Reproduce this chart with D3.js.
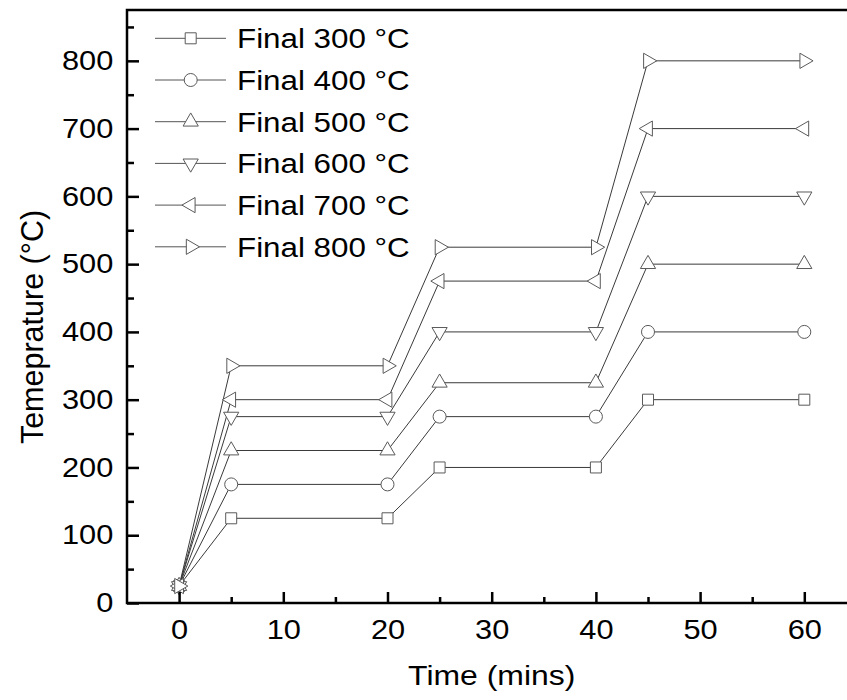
<!DOCTYPE html>
<html>
<head>
<meta charset="utf-8">
<script src="https://cdn.jsdelivr.net/npm/d3@7"></script>
<style>
  html, body { margin: 0; padding: 0; background: #fff; }
  svg { display: block; font-family: Arial, "Liberation Sans", sans-serif; }
</style>
</head>
<body>
<svg id="chart" width="847" height="700"></svg>
<script>
// ── Data ──────────────────────────────────────────────────────────────────
const times = [0, 5, 20, 25, 40, 45, 60];

const final300 = [25, 125, 125, 200, 200, 300, 300];
const final400 = [25, 175, 175, 275, 275, 400, 400];
const final500 = [25, 225, 225, 325, 325, 500, 500];
const final600 = [25, 275, 275, 400, 400, 600, 600];
const final700 = [25, 300, 300, 475, 475, 700, 700];
const final800 = [25, 350, 350, 525, 525, 800, 800];

const seriesLabels = ['Final 300 °C', 'Final 400 °C', 'Final 500 °C',
                      'Final 600 °C', 'Final 700 °C', 'Final 800 °C'];
const seriesValues = [final300, final400, final500, final600, final700, final800];

const xTicks = [0, 10, 20, 30, 40, 50, 60];
const xMinorTicks = [5, 15, 25, 35, 45, 55];
const yTicks = [0, 100, 200, 300, 400, 500, 600, 700, 800];
const yMinorTicks = [50, 150, 250, 350, 450, 550, 650, 750, 850];

// ── Layout ────────────────────────────────────────────────────────────────
const svg = d3.select('#chart');
const plotLeft = 127, plotTop = 10, plotBottom = 603;
const stretch = 'scale(1.14,1)';   // glyphs in the reference are wide

const x = d3.scaleLinear().domain([-5, 65]).range([plotLeft, plotLeft + 70 * 10.42]);
const y = d3.scaleLinear().domain([0, 875]).range([plotBottom, plotTop]);

// marker shapes: [symbol type, size, rotation]
const markers = [
  [d3.symbolSquare, 121, 0],
  [d3.symbolCircle, 133, 0],
  [d3.symbolTriangle, 100, 0],
  [d3.symbolTriangle, 100, 180],
  [d3.symbolTriangle, 100, -90],
  [d3.symbolTriangle, 100, 90]
];

const lineColor = '#3a3a3a';
const markerStroke = '#5a5a5a';

// ── Series ────────────────────────────────────────────────────────────────
const line = d3.line()
  .x((d, i) => x(times[i]))
  .y(d => y(d));

const plot = svg.append('g');

seriesValues.forEach(vals => {
  plot.append('path')
    .attr('d', line(vals))
    .attr('fill', 'none')
    .attr('stroke', lineColor)
    .attr('stroke-width', 1);
});

seriesValues.forEach((vals, s) => {
  const [type, size, rot] = markers[s];
  const sym = d3.symbol().type(type).size(size);
  plot.selectAll(null)
    .data(vals)
    .enter()
    .append('path')
    .attr('d', sym)
    .attr('transform', (d, i) => `translate(${x(times[i])},${y(d)}) rotate(${rot})`)
    .attr('fill', '#fff')
    .attr('stroke', markerStroke)
    .attr('stroke-width', 1);
});

// ── Axes ──────────────────────────────────────────────────────────────────
const xAxis = svg.append('g')
  .attr('transform', `translate(0,${plotBottom})`)
  .call(d3.axisBottom(x).tickValues(xTicks).tickSizeInner(-11).tickSizeOuter(0).tickPadding(17));
svg.append('g')
  .attr('transform', `translate(0,${plotBottom})`)
  .call(d3.axisBottom(x).tickValues(xMinorTicks).tickSizeInner(-6).tickSizeOuter(0).tickFormat(''));

const yAxis = svg.append('g')
  .attr('transform', `translate(${plotLeft},0)`)
  .call(d3.axisLeft(y).tickValues(yTicks).tickSizeInner(-12).tickSizeOuter(0).tickPadding(12));
svg.append('g')
  .attr('transform', `translate(${plotLeft},0)`)
  .call(d3.axisLeft(y).tickValues(yMinorTicks).tickSizeInner(-7).tickSizeOuter(0).tickFormat(''));

svg.selectAll('.domain').remove();
svg.selectAll('.tick line').attr('stroke', '#000').attr('stroke-width', 2.5);

[xAxis, yAxis].forEach(ax => {
  ax.selectAll('text')
    .attr('font-size', 27)
    .attr('fill', '#000')
    .attr('font-family', 'Arial, "Liberation Sans", sans-serif')
    .attr('transform', stretch);
});

// frame (right edge falls outside the picture)
svg.append('rect')
  .attr('x', x(-5))
  .attr('y', y(875))
  .attr('width', x(65) - x(-5))
  .attr('height', y(0) - y(875))
  .attr('fill', 'none')
  .attr('stroke', '#000')
  .attr('stroke-width', 2.5);

// ── Titles ────────────────────────────────────────────────────────────────
svg.append('text')
  .attr('transform', `translate(${x(30)},685) ${stretch}`)
  .attr('text-anchor', 'middle')
  .attr('font-size', 28)
  .text('Time (mins)');

svg.append('text')
  .attr('transform', 'translate(43,327) rotate(-90)')
  .attr('text-anchor', 'middle')
  .attr('font-size', 30.5)
  .text('Temeprature (°C)');

// ── Legend ────────────────────────────────────────────────────────────────
const legend = svg.append('g');
seriesLabels.forEach((label, s) => {
  const cy = 38.3 + s * 41.7;
  const [type, size, rot] = markers[s];
  legend.append('line')
    .attr('x1', 155).attr('x2', 226)
    .attr('y1', cy).attr('y2', cy)
    .attr('stroke', '#555')
    .attr('stroke-width', 1);
  legend.append('path')
    .attr('d', d3.symbol().type(type).size(size))
    .attr('transform', `translate(190.7,${cy}) rotate(${rot})`)
    .attr('fill', '#fff')
    .attr('stroke', markerStroke)
    .attr('stroke-width', 1);
  legend.append('text')
    .attr('transform', `translate(237,${cy + 10}) ${stretch}`)
    .attr('font-size', 27.5)
    .text(label);
});
</script>
</body>
</html>
